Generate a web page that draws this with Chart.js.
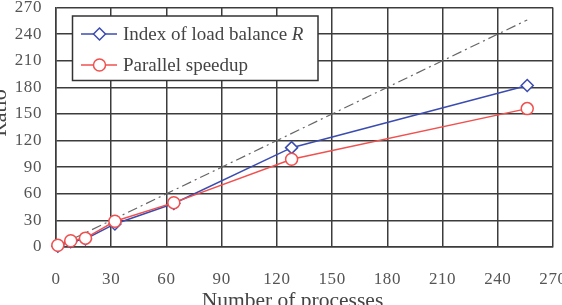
<!DOCTYPE html>
<html>
<head>
<meta charset="utf-8">
<script src="https://cdn.jsdelivr.net/npm/chart.js@4/dist/chart.umd.min.js"></script>
<style>
html,body{margin:0;padding:0;background:#fff;}
#wrap{width:562px;height:305px;position:relative;}
</style>
</head>
<body>
<div id="wrap"><canvas id="c" width="562" height="305"></canvas></div>
<script>
// ---- data ----
const processes = [1, 8, 16, 32, 64, 128, 256];
const loadBalanceR = [1, 6, 9, 26, 49, 112, 182];
const parallelSpeedup = [2, 7, 10, 29, 50, 99, 156];
const idealX = [0, 256];
const idealY = [0, 256];
const xTicks = [0, 30, 60, 90, 120, 150, 180, 210, 240, 270];
const yTicks = [0, 30, 60, 90, 120, 150, 180, 210, 240, 270];
const seriesNames = ['Index of load balance ', 'Parallel speedup'];
const seriesItalicSuffix = ['R', ''];
const xTitle = 'Number of processes';
const yTitle = 'Ratio';

const BLUE = '#3b4cb0';
const RED = '#f0504e';
const GRID = '#3c3c3c';
const SERIF = '"Liberation Serif", "Times New Roman", serif';

const toPts = (xs, ys) => xs.map((x, i) => ({x: x, y: ys[i]}));

const letterSpacingPlugin = {
  id: 'ls',
  beforeDraw(chart) { chart.ctx.letterSpacing = '0.6px'; },
  afterDraw(chart) { chart.ctx.letterSpacing = '0px'; }
};

function drawMarker(ctx, type, x, y, color) {
  ctx.save();
  ctx.fillStyle = '#fff';
  ctx.strokeStyle = color;
  ctx.lineWidth = 1.5;
  ctx.beginPath();
  if (type === 'circle') {
    ctx.arc(x, y, 6, 0, Math.PI * 2);
  } else {
    const r = 6;
    ctx.moveTo(x, y - r); ctx.lineTo(x + r, y); ctx.lineTo(x, y + r); ctx.lineTo(x - r, y); ctx.closePath();
  }
  ctx.fill(); ctx.stroke();
  ctx.restore();
}

const overlayPlugin = {
  id: 'overlay',
  afterDraw(chart) {
    const ctx = chart.ctx;
    ctx.save();
    ctx.letterSpacing = '0px';
    // legend box
    const bx = 72.5, by = 16, bw = 245.5, bh = 64.5;
    ctx.fillStyle = '#fff';
    ctx.fillRect(bx, by, bw, bh);
    ctx.strokeStyle = '#333';
    ctx.lineWidth = 1.5;
    ctx.strokeRect(bx, by, bw, bh);
    const items = [
      {y: 34, color: BLUE, marker: 'diamond'},
      {y: 65, color: RED, marker: 'circle'}
    ];
    items.forEach((it, i) => {
      ctx.strokeStyle = it.color;
      ctx.lineWidth = 1.5;
      ctx.beginPath();
      ctx.moveTo(81, it.y); ctx.lineTo(117, it.y); ctx.stroke();
      drawMarker(ctx, it.marker, 99.5, it.y, it.color);
      ctx.fillStyle = '#444';
      ctx.textBaseline = 'middle';
      ctx.textAlign = 'left';
      ctx.font = '19px ' + SERIF;
      ctx.fillText(seriesNames[i], 123, it.y + 1);
      if (seriesItalicSuffix[i]) {
        const w = ctx.measureText(seriesNames[i]).width;
        ctx.font = 'italic 19px ' + SERIF;
        ctx.fillText(seriesItalicSuffix[i], 123 + w, it.y + 1);
      }
    });
    // axis titles
    ctx.fillStyle = '#444';
    ctx.textAlign = 'center';
    ctx.textBaseline = 'alphabetic';
    ctx.font = '21.5px ' + SERIF;
    ctx.fillText(xTitle, 292.5, 307);
    ctx.font = '22px ' + SERIF;
    ctx.translate(6, 113);
    ctx.rotate(-Math.PI / 2);
    ctx.fillText(yTitle, 0, 0);
    ctx.restore();
  }
};

function noPad(s) {
  s.paddingLeft = 0; s.paddingRight = 0; s.paddingTop = 0; s.paddingBottom = 0;
}

new Chart(document.getElementById('c'), {
  type: 'scatter',
  data: {
    datasets: [
      {
        label: seriesNames[1],
        data: toPts(processes, parallelSpeedup),
        showLine: true,
        clip: false,
        borderColor: RED,
        borderWidth: 1.5,
        pointStyle: 'circle',
        pointRadius: 6,
        pointBorderWidth: 1.5,
        pointBackgroundColor: '#fff',
        pointBorderColor: RED,
        order: 0
      },
      {
        label: seriesNames[0] + seriesItalicSuffix[0],
        data: toPts(processes, loadBalanceR),
        showLine: true,
        clip: false,
        borderColor: BLUE,
        borderWidth: 1.5,
        pointStyle: 'rectRot',
        pointRadius: 6,
        pointBorderWidth: 1.5,
        pointBackgroundColor: '#fff',
        pointBorderColor: BLUE,
        order: 1
      },
      {
        label: 'Ideal',
        data: toPts(idealX, idealY),
        showLine: true,
        borderColor: '#666',
        borderWidth: 1.2,
        borderDash: [10, 4, 2, 4],
        pointRadius: 0,
        order: 2
      }
    ]
  },
  options: {
    responsive: false,
    animation: false,
    events: [],
    layout: {padding: {top: 7, right: 9, left: 0, bottom: 0}},
    plugins: {legend: {display: false}, tooltip: {enabled: false}},
    scales: {
      x: {
        type: 'linear',
        min: 0, max: 270,
        afterBuildTicks: s => { s.ticks = xTicks.map(v => ({value: v})); },
        afterFit: s => { s.height = 58; noPad(s); },
        grid: {color: GRID, lineWidth: 1.5, drawTicks: false},
        border: {color: GRID, width: 1.5},
        ticks: {color: '#555', padding: 22, maxRotation: 0, font: {family: SERIF, size: 17}}
      },
      y: {
        type: 'linear',
        min: 0, max: 270,
        afterBuildTicks: s => { s.ticks = yTicks.map(v => ({value: v})); },
        afterFit: s => { s.width = 56; noPad(s); },
        grid: {color: GRID, lineWidth: 1.5, drawTicks: false},
        border: {color: GRID, width: 1.5},
        ticks: {color: '#555', padding: 14, font: {family: SERIF, size: 17}}
      }
    }
  },
  plugins: [letterSpacingPlugin, overlayPlugin]
});
</script>
</body>
</html>
